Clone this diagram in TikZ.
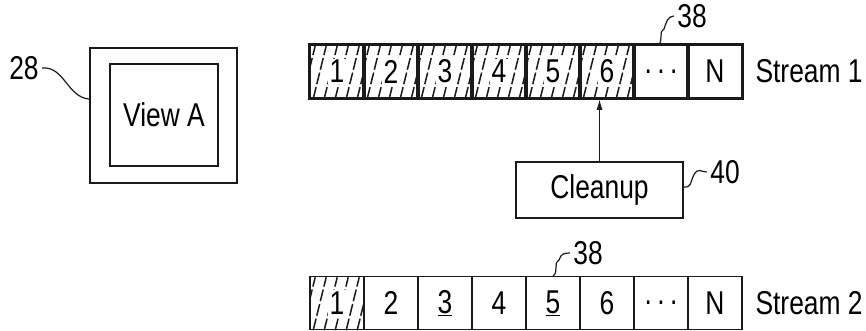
\documentclass[tikz,border=0pt]{standalone}
\usepackage{fontspec}
\setmainfont{Liberation Sans}[FakeStretch=0.8]
\usetikzlibrary{arrows.meta,positioning,calc}
\definecolor{ink}{HTML}{1A1A1A}

\begin{document}
\begin{tikzpicture}[x=1pt,y=1pt,
      font=\fontsize{33}{36}\selectfont,
      box/.style={draw=ink,line width=1.6pt,inner sep=0pt,align=center},
      cell/.style={box,minimum width=54pt,minimum height=53pt},
      digit/.style={fill=white,inner sep=1.5pt},
      hatch/.style={draw=ink,line width=1.5pt,dash pattern=on 12pt off 3pt},
      lead/.style={draw=ink,line width=1.2pt},
      arr/.style={-{Latex[length=11pt,width=6pt]},line width=1.6pt,draw=ink}]
    \useasboundingbox (0,0) rectangle (866,331);
    % view box
    \node[box,minimum width=147pt,minimum height=135pt] (viewA) at (163.5,215.5) {};
    \node[box,minimum width=108pt,minimum height=102pt] (viewAin) at (164,216) {View A};
    \node (n28) at (24,263) {28};
    \draw[lead] (n28.east) .. controls +(22,2) and +(-22,2) .. ($(viewA.north west)!0.38!(viewA.south west)$);
    % streams
    \foreach \i in {1,...,8} {
      \node[cell] (sa\i) at (337+54*\i-54,259.5) {};
      \node[cell] (sb\i) at (337+54*\i-54,28) {};
    }
    \foreach \i in {1,...,6} {
      \begin{scope}
        \clip (sa\i.south west) rectangle (sa\i.north east);
        \foreach \k in {-1,...,4}
          \draw[hatch] ($(sa\i.south west)+(\k*11+4,0)$) -- ++(13,53);
      \end{scope}
    }
    \begin{scope}
      \clip (sb1.south west) rectangle (sb1.north east);
      \foreach \k in {-1,...,4}
        \draw[hatch] ($(sb1.south west)+(\k*11+4,0)$) -- ++(13,53);
    \end{scope}
    \foreach \i in {1,...,8}
      \draw[line width=1.6pt,draw=ink] (sa\i.south west) rectangle (sa\i.north east);
    \foreach \i in {1,...,6} \node[digit] (da\i) at (sa\i) {\i};
    \node (da7) at (sa7) {.\,.\,.};
    \node (da8) at (sa8) {N};
    \node[digit] (db1) at (sb1) {1};
    \foreach \i/\t in {2/2,3/\underline{3},4/4,5/\underline{5},6/6,8/N}
      \node (db\i) at (sb\i) {\t};
    \node (db7) at (sb7) {.\,.\,.};
    \node[anchor=west] (st1) at (752,259.5) {Stream 1};
    \node[anchor=west] (st2) at (752,28) {Stream 2};
    % reference tags
    \node (n38a) at (692,315) {38};
    \coordinate (la) at (658,286);
    \draw[lead] (la) .. controls +(6,4) and +(-6,-2) .. ++(6,16) .. controls +(2,6) and +(-6,0) .. (n38a.west);
    \node (n38b) at (588,78) {38};
    \coordinate (lb) at (553,55);
    \draw[lead] (lb) .. controls +(6,4) and +(-6,-2) .. ++(6,16) .. controls +(2,6) and +(-6,0) .. (n38b.west);
    % cleanup
    \node[box,minimum width=167pt,minimum height=56pt] (clean) at (599.5,141) {Cleanup};
    \draw[arr] (clean.north) -- (clean.north |- sa6.south);
    \node (n40) at (725,159) {40};
    \draw[lead] ($(clean.north east)!0.45!(clean.south east)$) .. controls +(8,0) and +(-4,-8) .. ++(10,12) .. controls +(4,8) and +(-6,0) .. (n40.west);
  \end{tikzpicture}
\end{document}
